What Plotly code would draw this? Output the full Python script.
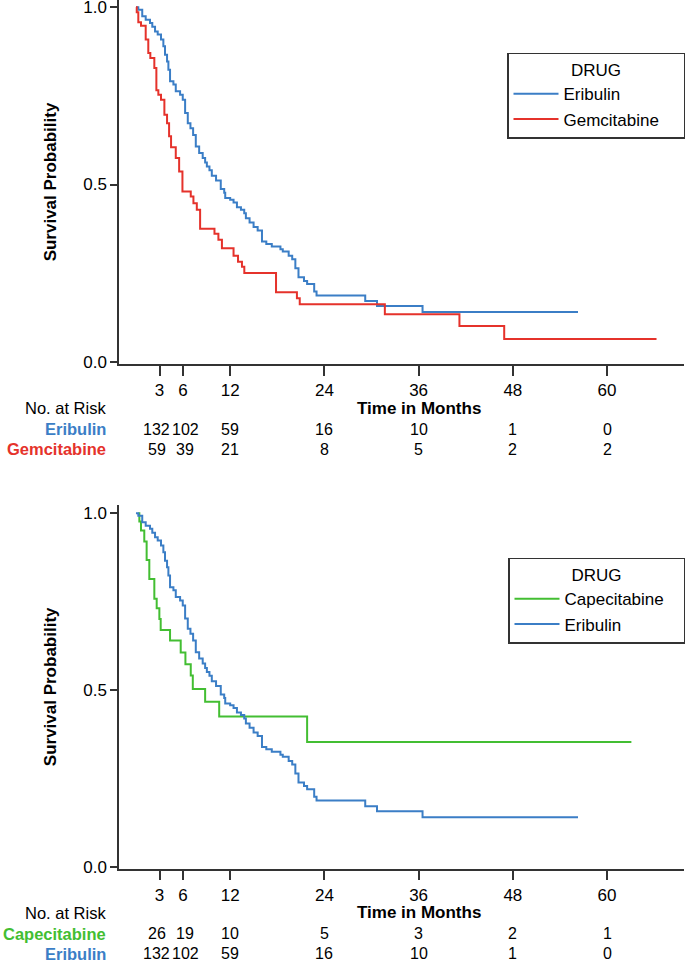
import plotly.graph_objects as go

# Kaplan-Meier step data (months, survival probability)
eribulin_t = [0, 0.3, 0.8, 1.24, 1.79, 2.08, 2.43, 2.77, 3.19, 3.49, 3.7, 3.96, 4.13, 4.34,
              4.77, 5.07, 5.62, 5.96, 6.26, 6.6, 6.94, 7.28, 7.62, 8.05, 8.5, 8.81, 9.03,
              9.36, 9.66, 10.2, 10.8, 11.24, 11.37, 12.0, 12.43, 12.86, 13.37, 13.79, 14.0,
              14.47, 14.98, 15.5, 16.05, 16.6, 17.3, 18.4, 18.7, 19.45, 19.9, 20.3, 20.7,
              21.4, 21.8, 22.7, 23.0, 29.2, 30.7, 36.5, 56.3]
eribulin_s = [1.0, 0.993, 0.975, 0.965, 0.956, 0.945, 0.932, 0.923, 0.909, 0.89, 0.866, 0.847,
              0.824, 0.791, 0.782, 0.763, 0.753, 0.739, 0.702, 0.673, 0.659, 0.64, 0.607, 0.589,
              0.575, 0.562, 0.551, 0.54, 0.525, 0.511, 0.487, 0.477, 0.462, 0.457, 0.449, 0.436,
              0.429, 0.419, 0.405, 0.393, 0.38, 0.37, 0.339, 0.332, 0.325, 0.317, 0.311, 0.299,
              0.289, 0.264, 0.238, 0.228, 0.219, 0.198, 0.187, 0.171, 0.157, 0.14, 0.14]

gemcitabine_t = [0, 0.1, 0.3, 0.64, 1.24, 1.57, 1.83, 2.34, 2.6, 2.85, 3.19, 3.62, 3.96, 4.22,
                 4.47, 5.07, 5.5, 5.92, 6.98, 7.32, 7.75, 8.17, 10.0, 10.5, 10.95, 12.43, 13.0,
                 13.5, 13.8, 17.84, 20.5, 20.86, 31.7, 41.2, 46.9, 66.3]
gemcitabine_s = [1.0, 0.986, 0.958, 0.948, 0.909, 0.871, 0.857, 0.829, 0.766, 0.753, 0.739,
                 0.697, 0.673, 0.636, 0.605, 0.575, 0.537, 0.48, 0.466, 0.447, 0.429, 0.375,
                 0.361, 0.344, 0.32, 0.299, 0.282, 0.268, 0.25, 0.196, 0.179, 0.162, 0.134,
                 0.101, 0.064, 0.064]

capecitabine_t = [0.3, 0.43, 0.64, 1.06, 1.36, 1.7, 2.34, 2.64, 2.98, 3.15, 4.34, 5.7, 6.3,
                  6.98, 7.24, 8.81, 10.6, 21.8, 63.1]
capecitabine_s = [1.0, 0.977, 0.951, 0.92, 0.868, 0.814, 0.758, 0.731, 0.701, 0.67, 0.64,
                  0.606, 0.573, 0.541, 0.503, 0.467, 0.425, 0.353, 0.353]

risk_times = [3, 6, 12, 24, 36, 48, 60]
risk_eribulin = [132, 102, 59, 16, 10, 1, 0]
risk_gemcitabine = [59, 39, 21, 8, 5, 2, 2]
risk_capecitabine = [26, 19, 10, 5, 3, 2, 1]

# small horizontal nudges of the risk-table columns (px), as in the reference
risk_xshift = [-3, 2, 0, 0, 0, 0, 0]

BLUE = "#3b7ec6"
RED = "#e5322b"
GREEN = "#43be32"
AXIS = "#333333"
FONT = "Liberation Sans, Arial, sans-serif"
FS = 17
FS_NUM = 16
FS_ROW = 16.5

W, H = 685, 962
LEFT = 119
PLOT_W = W - LEFT


def py(pixel):
    # pixel row -> paper y
    return 1 - pixel / H


def pad(name, n):
    return name + "\u00a0" * n


fig = go.Figure()

fig.add_trace(go.Scatter(x=eribulin_t, y=eribulin_s, mode="lines", line_shape="hv",
                         line=dict(color=BLUE, width=2), name=pad("Eribulin", 4),
                         xaxis="x", yaxis="y", legend="legend"))
fig.add_trace(go.Scatter(x=gemcitabine_t, y=gemcitabine_s, mode="lines", line_shape="hv",
                         line=dict(color=RED, width=2), name=pad("Gemcitabine", 4),
                         xaxis="x", yaxis="y", legend="legend"))
fig.add_trace(go.Scatter(x=capecitabine_t, y=capecitabine_s, mode="lines", line_shape="hv",
                         line=dict(color=GREEN, width=2), name=pad("Capecitabine", 3),
                         xaxis="x2", yaxis="y2", legend="legend2"))
fig.add_trace(go.Scatter(x=eribulin_t, y=eribulin_s, mode="lines", line_shape="hv",
                         line=dict(color=BLUE, width=2), name=pad("Eribulin", 3),
                         xaxis="x2", yaxis="y2", legend="legend2"))

xaxis_style = dict(range=[-2.16, 69.8], tickvals=risk_times, ticks="outside", ticklen=10,
                   tickwidth=1.5, tickcolor=AXIS, showline=True, linecolor=AXIS, linewidth=1.5,
                   showgrid=False, zeroline=False, tickfont=dict(size=FS, color="black"),
                   ticklabeloverflow="allow", automargin=False)
yaxis_style = dict(tickvals=[0, 0.5, 1], tickformat=".1f", ticks="outside", ticklen=7,
                   tickwidth=1.5, tickcolor=AXIS, showline=True, linecolor=AXIS, linewidth=1.5,
                   showgrid=False, zeroline=False, tickfont=dict(size=FS, color="black"),
                   ticklabeloverflow="allow",
                   title=dict(text="<b>Survival Probability</b>", font=dict(size=FS, color="black"),
                              standoff=22),
                   automargin=False)

legend_style = dict(x=(508 - LEFT) / PLOT_W, xanchor="left", yanchor="top",
                    bordercolor=AXIS, borderwidth=1.5, bgcolor="white",
                    font=dict(size=FS, color="black"), itemwidth=45,
                    title=dict(text="DRUG", side="top center", font=dict(size=FS, color="black")))

fig.update_layout(
    width=W, height=H,
    margin=dict(l=LEFT, r=0, t=0, b=0),
    plot_bgcolor="white", paper_bgcolor="white",
    font=dict(family=FONT, color="black"),
    xaxis=dict(domain=[0, 1], anchor="y", **xaxis_style),
    yaxis=dict(domain=[py(364), 1], anchor="x", range=[-0.0065, 1.0206], **yaxis_style),
    xaxis2=dict(domain=[0, 1], anchor="y2", **xaxis_style),
    yaxis2=dict(domain=[py(868.7), py(505)], anchor="x2", range=[-0.0057, 1.0235], **yaxis_style),
    legend=dict(y=py(52.7), **legend_style),
    legend2=dict(y=py(557.7), **legend_style),
    showlegend=True,
)

# number-at-risk tables
tables = [
    ("x", 0, [("Eribulin", BLUE, risk_eribulin), ("Gemcitabine", RED, risk_gemcitabine)]),
    ("x2", 504.7, [("Capecitabine", GREEN, risk_capecitabine), ("Eribulin", BLUE, risk_eribulin)]),
]
label_x = (107 - LEFT) / PLOT_W
for xref, shift, rows in tables:
    fig.add_annotation(text="No. at Risk", xref="paper", yref="paper",
                       x=label_x, y=py(408 + shift), xanchor="right", borderpad=0,
                       yanchor="middle", showarrow=False, font=dict(size=FS_ROW, color="black"))
    fig.add_annotation(text="<b>Time in Months</b>", xref=xref, yref="paper",
                       x=36, y=py(408 + shift), xanchor="center", yanchor="middle", borderpad=0,
                       showarrow=False, font=dict(size=FS, color="black"))
    for k, (label, color, counts) in enumerate(rows):
        row_y = py(429 + 20 * k + shift)
        fig.add_annotation(text="<b>%s</b>" % label, xref="paper", yref="paper",
                           x=label_x, y=row_y, xanchor="right", yanchor="middle", borderpad=0,
                           showarrow=False, font=dict(size=FS_ROW, color=color))
        for t, n, dx in zip(risk_times, counts, risk_xshift):
            fig.add_annotation(text=str(n), xref=xref, yref="paper", x=t, y=row_y,
                               xanchor="center", yanchor="middle", showarrow=False, xshift=dx,
                               borderpad=0, font=dict(size=FS_NUM, color="black"))

fig.write_html("out.html", config={"displayModeBar": False},
               post_script="document.body.style.margin = '0';")
